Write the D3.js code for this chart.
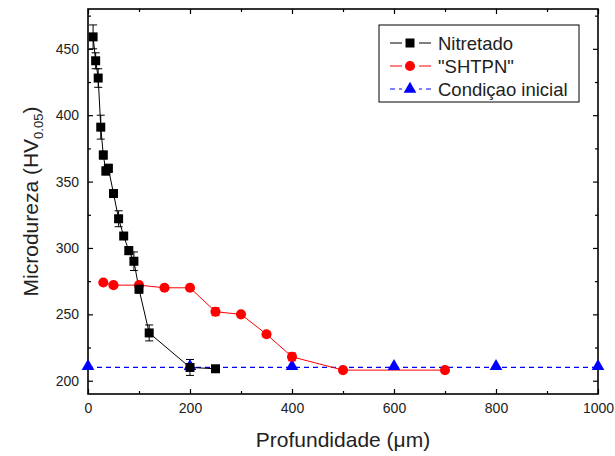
<!DOCTYPE html>
<html lang="pt">
<head>
<meta charset="UTF-8">
<title>Microdureza</title>
<style>
    body { margin: 0; background: #fff; }
    svg { font-family: Arial, "Liberation Sans", sans-serif; }
    .axis path, .axis line { stroke: #000; }
    .axis text { font-size: 14px; fill: #222; }
</style>
</head>
<body>
<script src="https://d3js.org/d3.v7.min.js"></script>
<script>
    // dados
    var nitX   = [10, 15, 20, 25, 30, 35, 40, 50, 60, 70, 80, 90, 100, 120, 200, 250];
    var nitY   = [459, 441, 428, 391, 370, 358, 360, 341, 322, 309, 298, 290, 269, 236, 210, 209];
    var nitErr = [9, 6, 7, 9, 3, 3, 3, 2, 6, 2, 3, 7, 3, 6, 6, 1];

    var shtX   = [30, 50, 100, 150, 200, 250, 300, 350, 400, 500, 700];
    var shtY   = [274, 272, 272, 270, 270, 252, 250, 235, 218, 208, 208];
    var shtErr = [1, 1, 1, 1, 1, 3, 2, 2, 3, 1, 1];

    var iniX   = [0, 200, 400, 600, 800, 1000];
    var iniY   = [210, 210, 210, 210, 210, 210];

    var xTicks = [0, 200, 400, 600, 800, 1000];
    var yTicks = [200, 250, 300, 350, 400, 450];

    var width = 615, height = 456;
    var pL = 88, pR = 598, pT = 9, pB = 394;

    var svg = d3.select("body").append("svg")
        .attr("width", width)
        .attr("height", height);

    var x = d3.scaleLinear().domain([0, 1000]).range([pL, pR]);
    var y = d3.scaleLinear().domain([190, 480]).range([pB, pT]);

    /* eixos: marcas para dentro, menores entre as maiores */
    function drawAxis(axisFn, scale, pos, major, minor, labels) {
        var g = svg.append("g").attr("class", "axis").attr("transform", pos);
        g.call(axisFn(scale).tickValues(minor).tickSize(-3).tickFormat(""));
        g.selectAll("path").remove();
        var g2 = svg.append("g").attr("class", "axis").attr("transform", pos);
        g2.call(axisFn(scale).tickValues(major).tickSize(-5).tickPadding(9)
            .tickFormat(labels ? d3.format("d") : ""));
        g2.selectAll("path").remove();
        g.selectAll("line").attr("stroke-width", 1.2);
        g2.selectAll("line").attr("stroke-width", 1.2);
        return g2;
    }

    var xMinor = d3.range(100, 1000, 200);
    var yMinor = d3.range(200, 480, 25).filter(function (d) { return d % 50 != 0; });

    drawAxis(d3.axisBottom, x, "translate(0," + pB + ")", xTicks, xMinor, true);
    drawAxis(d3.axisTop, x, "translate(0," + pT + ")", xTicks, xMinor, false);
    drawAxis(d3.axisLeft, y, "translate(" + pL + ",0)", yTicks, yMinor, true);
    drawAxis(d3.axisRight, y, "translate(" + pR + ",0)", yTicks, yMinor, false);

    /* moldura */
    svg.append("rect")
        .attr("x", pL).attr("y", pT)
        .attr("width", pR - pL).attr("height", pB - pT)
        .attr("fill", "none").attr("stroke", "#000").attr("stroke-width", 1.6);

    var line = d3.line()
        .x(function (d) { return x(d[0]); })
        .y(function (d) { return y(d[1]); });

    var plot = svg.append("g");

    /* condição inicial */
    var ini = iniX.map(function (d, i) { return [d, iniY[i]]; });
    plot.append("path").datum(ini).attr("d", line)
        .attr("fill", "none").attr("stroke", "#0000ff")
        .attr("stroke-width", 1.3).attr("stroke-dasharray", "5,4");

    /* SHTPN */
    var sht = shtX.map(function (d, i) { return [d, shtY[i], shtErr[i]]; });
    plot.append("path").datum(sht).attr("d", line)
        .attr("fill", "none").attr("stroke", "#ff0000").attr("stroke-width", 1);

    /* Nitretado */
    var nit = nitX.map(function (d, i) { return [d, nitY[i], nitErr[i]]; });
    plot.append("path").datum(nit).attr("d", line)
        .attr("fill", "none").attr("stroke", "#000").attr("stroke-width", 1);

    function errBars(data, color) {
        var g = plot.append("g").attr("stroke", color).attr("stroke-width", 1);
        data.forEach(function (d) {
            var cx = x(d[0]), y1 = y(d[1] - d[2]), y2 = y(d[1] + d[2]);
            g.append("line").attr("x1", cx).attr("x2", cx).attr("y1", y1).attr("y2", y2);
            g.append("line").attr("x1", cx - 4).attr("x2", cx + 4).attr("y1", y1).attr("y2", y1);
            g.append("line").attr("x1", cx - 4).attr("x2", cx + 4).attr("y1", y2).attr("y2", y2);
        });
    }
    errBars(sht, "#ff0000");
    errBars(nit, "#000");

    var tri = d3.symbol().type(d3.symbolTriangle).size(70);
    var sq = d3.symbol().type(d3.symbolSquare).size(81);
    var circ = d3.symbol().type(d3.symbolCircle).size(80);

    plot.selectAll(".ini").data(ini).enter().append("path")
        .attr("d", tri)
        .attr("transform", function (d) { return "translate(" + x(d[0]) + "," + (y(d[1]) - 1) + ")"; })
        .attr("fill", "#0000ff");

    plot.selectAll(".sht").data(sht).enter().append("path")
        .attr("d", circ)
        .attr("transform", function (d) { return "translate(" + x(d[0]) + "," + y(d[1]) + ")"; })
        .attr("fill", "#ff0000");

    plot.selectAll(".nit").data(nit).enter().append("path")
        .attr("d", sq)
        .attr("transform", function (d) { return "translate(" + x(d[0]) + "," + y(d[1]) + ")"; })
        .attr("fill", "#000");

    /* títulos dos eixos */
    svg.append("text")
        .attr("x", 343).attr("y", 447)
        .attr("text-anchor", "middle").attr("font-size", "21px").attr("fill", "#222")
        .text("Profundidade (\u03bcm)");

    var yt = svg.append("text")
        .attr("transform", "translate(38," + ((pT + pB) / 2) + ") rotate(-90)")
        .attr("text-anchor", "middle").attr("font-size", "21px").attr("fill", "#222");
    yt.append("tspan").text("Microdureza (HV");
    yt.append("tspan").attr("font-size", "13px").attr("dy", 5).text("0.05");
    yt.append("tspan").attr("dy", -5).text(")");

    /* legenda */
    var legNames = ["Nitretado", "\"SHTPN\"", "Condi\u00e7ao inicial"];
    var legColors = ["#000", "#ff0000", "#0000ff"];
    var legSyms = [sq, circ, tri];
    var legDash = [null, null, "5,4"];

    var leg = svg.append("g");
    leg.append("rect")
        .attr("x", 379).attr("y", 25).attr("width", 200).attr("height", 77)
        .attr("fill", "#fff").attr("stroke", "#000").attr("stroke-width", 1);

    legNames.forEach(function (name, i) {
        var ly = 43 + i * 23;
        leg.append("line")
            .attr("x1", 390).attr("x2", 431).attr("y1", ly).attr("y2", ly)
            .attr("stroke", legColors[i]).attr("stroke-width", 1)
            .attr("stroke-dasharray", legDash[i]);
        leg.append("rect")
            .attr("x", 402).attr("y", ly - 6).attr("width", 17).attr("height", 12)
            .attr("fill", "#fff");
        leg.append("path").attr("d", legSyms[i])
            .attr("transform", "translate(410," + ly + ")")
            .attr("fill", legColors[i]);
        leg.append("text")
            .attr("x", 438).attr("y", ly + 6.5)
            .attr("font-size", "18.5px").attr("fill", "#222")
            .text(name);
    });
</script>
</body>
</html>
